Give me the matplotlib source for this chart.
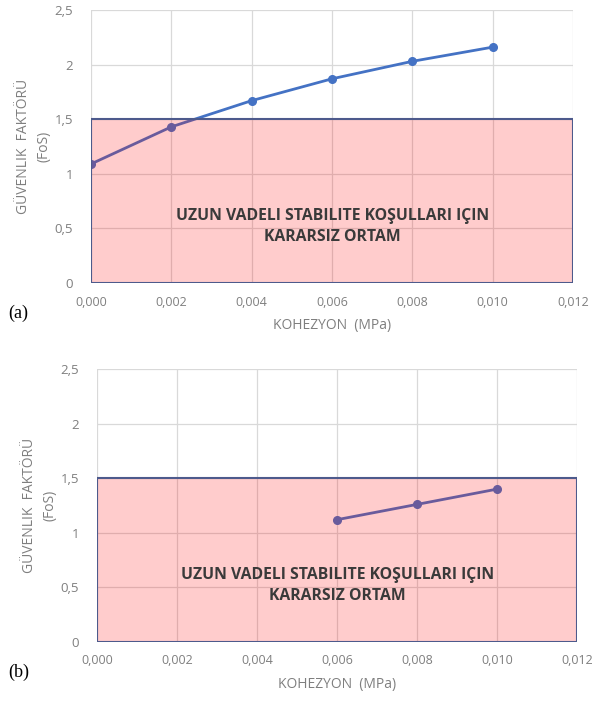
import matplotlib.pyplot as plt
from matplotlib.patches import Rectangle
from matplotlib.ticker import FuncFormatter

# panel (a)
coh_a = [0.000, 0.002, 0.004, 0.006, 0.008, 0.010]
fos_a = [1.09, 1.43, 1.67, 1.87, 2.03, 2.16]
# panel (b)
coh_b = [0.006, 0.008, 0.010]
fos_b = [1.12, 1.26, 1.40]

x_ticks = [0.000, 0.002, 0.004, 0.006, 0.008, 0.010, 0.012]
y_ticks = [0, 0.5, 1, 1.5, 2, 2.5]
fos_limit = 1.5
box_text = "UZUN VADELI STABILITE KOŞULLARI IÇIN\nKARARSIZ ORTAM"

plt.rcParams['font.family'] = ['Open Sans', 'DejaVu Sans']

fig = plt.figure(figsize=(5.92, 7.02), dpi=100)
W, H = 592, 702


def px_axes(l, t, r, b):
    return fig.add_axes([l / W, 1 - b / H, (r - l) / W, (b - t) / H])


ax_a = px_axes(91, 10, 573, 283)
ax_b = px_axes(97, 369, 577, 642)

xfmt = FuncFormatter(lambda v, p: f"{v:.3f}".replace('.', ','))
yfmt = FuncFormatter(lambda v, p: (f"{v:g}").replace('.', ','))

for ax, xs, ys, tag in [(ax_a, coh_a, fos_a, "(a)"), (ax_b, coh_b, fos_b, "(b)")]:
    ax.plot(xs, ys, color='#4472C4', lw=2, marker='o', ms=5.5, zorder=2)
    ax.add_patch(Rectangle((x_ticks[0], 0), x_ticks[-1] - x_ticks[0], fos_limit,
                           facecolor=(1, 0, 0, 0.2), edgecolor='#4d5a8c', lw=1.5, zorder=3))
    ax.text(0.00602, 0.52, box_text, ha='center', va='center', fontsize=11.3,
            fontweight='bold', color='#3a3a3a', linespacing=1.45, zorder=4)
    ax.set_xlim(x_ticks[0], x_ticks[-1])
    ax.set_ylim(y_ticks[0], y_ticks[-1])
    ax.set_xticks(x_ticks)
    ax.set_yticks(y_ticks)
    ax.xaxis.set_major_formatter(xfmt)
    ax.yaxis.set_major_formatter(yfmt)
    ax.grid(True, color='#d9d9d9', lw=0.9, zorder=0)
    ax.set_axisbelow(True)
    for s in ax.spines.values():
        s.set_visible(False)
    ax.tick_params(axis='x', length=0, labelsize=9, labelcolor='#7f7f7f', pad=9)
    ax.tick_params(axis='y', length=0, labelsize=9.5, labelcolor='#7f7f7f', pad=13)
    ax.set_xlabel("KOHEZYON  (MPa)", fontsize=10, color='#7f7f7f', labelpad=7)
    ax.set_ylabel("GÜVENLIK  FAKTÖRÜ\n(FoS)", fontsize=10, color='#7f7f7f',
                  labelpad=2, linespacing=1.5)
    bb = ax.get_position()
    fig.text(8 / W, bb.y0 - 30 / H, tag, fontsize=13, family='Liberation Serif',
             ha='left', va='center')

fig.savefig('out.png', dpi=100)
